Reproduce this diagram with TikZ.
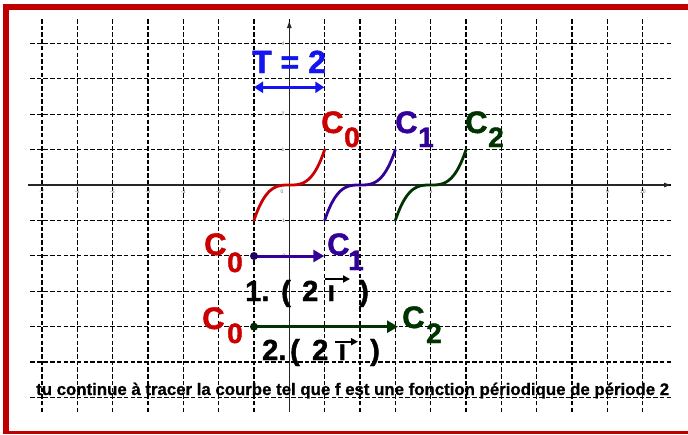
\documentclass[tikz,border=0pt]{standalone}
\usepackage{fontspec}
\setmainfont{Liberation Sans}[BoldFont={Liberation Sans Bold}]
\newfontfamily\heavy{Liberation Sans Bold}[FakeBold=1.5]
\newfontfamily\heavysent{Liberation Sans Bold}[FakeBold=0.8]
\usetikzlibrary{arrows.meta}
\definecolor{framered}{RGB}{192,0,0}
\definecolor{czero}{RGB}{204,0,0}
\definecolor{cone}{RGB}{51,0,153}
\definecolor{ctwo}{RGB}{0,51,0}
\definecolor{tblue}{RGB}{20,20,240}
\tikzset{
 gridline/.style={black, line width=1.35pt, dash pattern=on 4.5pt off 2.2pt},
 axisline/.style={line width=1.3pt, black!85, -{Latex[length=8pt,width=5pt]}},
 big/.style={inner sep=0pt, anchor=base west, font=\fontsize{31}{31}\heavy},
 sub/.style={inner sep=0pt, anchor=base west, font=\fontsize{28}{28}\heavy},
 rowtxt/.style={inner sep=0pt, anchor=base west, font=\fontsize{29}{29}\heavy},
 ticklab/.style={inner sep=0pt, font=\fontsize{5}{5}\selectfont, text=black!60},
 curve/.style={line width=2.8pt, line cap=round},
 vecarrow/.style={line width=3pt, -{Triangle[length=11pt,width=12pt]}},
 smallvec/.style={black, line width=1.8pt, -{Triangle[length=7pt,width=7pt]}},
}
\begin{document}
\begin{tikzpicture}[x=1pt,y=-1pt]
\useasboundingbox (0,0) rectangle (688,434);
\fill[white] (0,0) rectangle (688,434);
% frame
\fill[framered] (3,4) rectangle (688,10);
\fill[framered] (3,4) rectangle (9,434);
\fill[framered] (3,431) rectangle (688,434);
% grid
\foreach \j in {-6,...,4} \draw[gridline] (30,{185-35.4*\j}) -- (673,{185-35.4*\j});
\foreach \i in {-7,...,10} \draw[gridline] ({289.3+35.35*\i},19) -- ({289.3+35.35*\i},413);
% axes
\coordinate (xs) at (28,185);
\coordinate (xe) at (672,185);
\coordinate (ys) at (289.3,412);
\coordinate (ye) at (289.3,20);
\draw[axisline] (xs) -- (xe);
\draw[axisline] (ys) -- (ye);
% tick labels
\foreach \i in {-7,...,-1} \node[ticklab] (tx\i) at ({289.3+35.35*\i},191.5) {\i};
\foreach \i in {1,...,10} \node[ticklab] (tx\i) at ({289.3+35.35*\i},191.5) {\i};
\node[ticklab] (tx0) at (282,191.5) {0};
\foreach \j in {1,2,4} \node[ticklab] (ty\j) at (283,{185-35.4*\j}) {\j};
\foreach \j in {-4,-2,-1} \node[ticklab] (ty\j) at (283,{185-35.4*\j}) {\j};
% curves
\draw[czero, curve] plot[domain=-1:1, samples=60, smooth] ({289.3+35.35*\x},{185-35.4*(\x)*(\x)*(\x)});
\draw[cone, curve] plot[domain=1:3, samples=60, smooth] ({289.3+35.35*\x},{185-35.4*(\x-2)*(\x-2)*(\x-2)});
\draw[ctwo, curve] plot[domain=3:5, samples=60, smooth] ({289.3+35.35*\x},{185-35.4*(\x-4)*(\x-4)*(\x-4)});
% T = 2
\node[inner sep=0pt, anchor=base west, font=\fontsize{32}{32}\heavy, text=tblue] (tlab) at (252,73) {T = 2};
\coordinate (ta) at (254,87.3);
\coordinate (tb) at (324.3,87.3);
\draw[tblue, line width=3pt, {Triangle[length=9pt,width=11pt]}-{Triangle[length=9pt,width=11pt]}] (ta) -- (tb);
% curve labels
\node[big, text=czero] (c0t) at (321,133) {C};
\node[sub, text=czero] (c0ts) at (344,147) {0};
\node[big, text=cone] (c1t) at (395,133) {C};
\node[sub, text=cone] (c1ts) at (418,147) {1};
\node[big, text=ctwo] (c2t) at (465,133) {C};
\node[sub, text=ctwo] (c2ts) at (488,147) {2};
% row 1
\node[big, text=czero] (r1c) at (204,255) {C};
\node[sub, text=czero] (r1cs) at (227,272) {0};
\node[big, text=cone] (r1d) at (327,255) {C};
\node[sub, text=cone] (r1ds) at (348,270) {1};
\coordinate (p1) at (254,256);
\coordinate (q1) at (324.3,256);
\draw[cone, vecarrow] (p1) -- (q1);
\fill[cone!60!black] (p1) circle (4);
\node[rowtxt] (r1a) at (245,301) {1.};
\node[rowtxt] (r1b) at (281,301) {(};
\node[rowtxt] (r1n) at (302,301) {2};
\node[rowtxt] (r1i) at (327,301) {ı};
\node[rowtxt] (r1e) at (359,301) {)};
\coordinate (v1a) at (325,279);
\coordinate (v1b) at (350,279);
\draw[smallvec] (v1a) -- (v1b);
% row 2
\node[big, text=czero] (r2c) at (202,329) {C};
\node[sub, text=czero] (r2cs) at (227,343) {0};
\node[big, text=ctwo] (r2d) at (402,328) {C};
\node[sub, text=ctwo] (r2ds) at (426,343) {2};
\coordinate (p2) at (254,326.7);
\coordinate (q2) at (398,326.7);
\draw[ctwo, vecarrow] (p2) -- (q2);
\fill[black!85!green] (p2) circle (4);
\node[rowtxt] (r2a) at (262,360) {2.};
\node[rowtxt] (r2b) at (290,360) {(};
\node[rowtxt] (r2n) at (312,360) {2};
\node[rowtxt] (r2i) at (338,360) {ı};
\node[rowtxt] (r2e) at (370,360) {)};
\coordinate (v2a) at (335,341.7);
\coordinate (v2b) at (358,341.7);
\draw[smallvec] (v2a) -- (v2b);
% bottom sentence
\node[inner sep=0pt, anchor=base west, font=\fontsize{16.8}{16.8}\heavysent] (sent) at (36,395) {tu continue à tracer la courbe tel que f est une fonction périodique de période 2};
\end{tikzpicture}
\end{document}
